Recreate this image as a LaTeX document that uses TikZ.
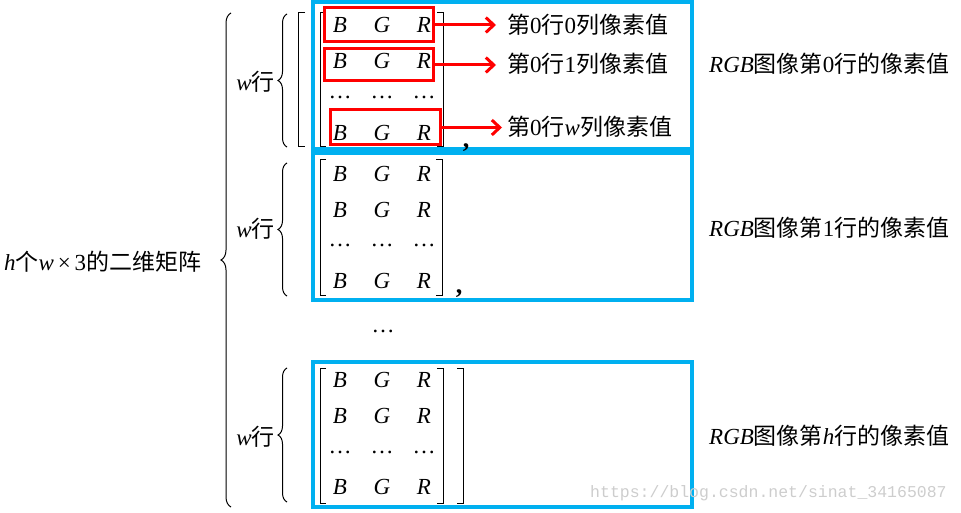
\documentclass[tikz,border=0pt]{standalone}
\usepackage{fontspec}
\setmainfont{Liberation Serif}
\newfontfamily\cjk{Noto Sans CJK SC}
\newfontfamily\wmfont{Liberation Mono}
\usetikzlibrary{arrows.meta,decorations.pathreplacing}
\definecolor{boxblue}{RGB}{0,176,240}
\definecolor{wmgray}{RGB}{205,205,205}
\begin{document}
\begin{tikzpicture}[x=1pt,y=-1pt,
  txt/.style={inner sep=0pt,font=\fontsize{23}{27}\selectfont},
  ent/.style={inner sep=0pt,font=\fontsize{23}{27}\selectfont\itshape},
  commastyle/.style={inner sep=0pt,font=\fontsize{26}{30}\selectfont\bfseries},
  bluebox/.style={draw=boxblue,line width=3.5pt,inner sep=0pt},
  redbox/.style={draw=red,line width=3pt,inner sep=0pt},
  redarrow/.style={draw=red,line width=3pt,-{Straight Barb[length=8pt,width=15pt]}},
  thinline/.style={draw=black,line width=1pt},
  groupbrace/.style={thinline,decorate,decoration={brace,amplitude=9pt}},
  bigbrace/.style={thinline,decorate,decoration={brace,amplitude=10pt}},
]
\useasboundingbox (0,0) rectangle (961,513);

% blue boxes
\node[bluebox,minimum width=379pt,minimum height=147pt] (b1) at (502.5,75.5) {};
\node[bluebox,minimum width=379pt,minimum height=147pt] (b2) at (502.5,226.5) {};
\node[bluebox,minimum width=379pt,minimum height=145pt] (b3) at (502.5,434.5) {};

% left label and big brace
\node[txt,anchor=west] (L) at (4,262) {{\itshape h}{\cjk 个}{\itshape w}\,×\,3{\cjk 的二维矩阵}};
\draw[bigbrace] (231,507) -- (231,13);

% group labels and braces
\node[txt,anchor=east] (w1) at (275,82) {{\itshape w}{\cjk 行}};
\node[txt,anchor=east] (w2) at (275,229) {{\itshape w}{\cjk 行}};
\node[txt,anchor=east] (w3) at (275,437) {{\itshape w}{\cjk 行}};
\draw[groupbrace] (287,147) -- (287,14);
\draw[groupbrace] (287,296) -- (287,163);
\draw[groupbrace] (287,502) -- (287,368);

% outer brackets
\draw[thinline] (305,13) -- (298,13) -- (298,147) -- (305,147);
\draw[thinline] (457,368) -- (463,368) -- (463,503) -- (457,503);

% matrix brackets
\draw[thinline] (326,13) -- (320,13) -- (320,147) -- (326,147);
\draw[thinline] (437,13) -- (443,13) -- (443,147) -- (437,147);
\draw[thinline] (326,160) -- (320,160) -- (320,295) -- (326,295);
\draw[thinline] (436,160) -- (442,160) -- (442,295) -- (436,295);
\draw[thinline] (326,368) -- (320,368) -- (320,503) -- (326,503);
\draw[thinline] (437,368) -- (443,368) -- (443,503) -- (437,503);

% matrix entries
\foreach \g/\ya/\yb/\yc/\yd in {1/25/61/97/133, 2/174/210/245/281, 3/380/416/452/487} {
  \foreach \r/\y in {1/\ya, 2/\yb, 4/\yd} {
    \node[ent] (m\g r\r b) at (340,\y) {B};
    \node[ent] (m\g r\r g) at (382,\y) {G};
    \node[ent] (m\g r\r r) at (424,\y) {R};
  }
  \node[txt,anchor=base] (m\g d1) at (340,\yc+1.5) {…};
  \node[txt,anchor=base] (m\g d2) at (382,\yc+1.5) {…};
  \node[txt,anchor=base] (m\g d3) at (424,\yc+1.5) {…};
}

% commas and middle dots
\node[commastyle,anchor=base] (c1) at (466,148) {,};
\node[commastyle,anchor=base] (c2) at (459,293) {,};
\node[txt,anchor=base] (vd) at (383,332) {…};

% red boxes
\node[redbox,minimum width=109pt,minimum height=34pt] (rb1) at (378.5,25) {};
\node[redbox,minimum width=109pt,minimum height=32pt] (rb2) at (378.5,65) {};
\node[redbox,minimum width=110pt,minimum height=35pt] (rb3) at (385,127.5) {};

% pixel texts
\node[txt,anchor=west] (t1) at (507,25) {{\cjk 第}0{\cjk 行}0{\cjk 列像素值}};
\node[txt,anchor=west] (t2) at (507,64) {{\cjk 第}0{\cjk 行}1{\cjk 列像素值}};
\node[txt,anchor=west] (t3) at (507,127) {{\cjk 第}0{\cjk 行}{\itshape w}{\cjk 列像素值}};
\draw[redarrow,shorten >=11pt] (rb1.east) -- (rb1.east -| t1.west);
\draw[redarrow,shorten >=11pt] (rb2.east) -- (rb2.east -| t2.west);
\draw[redarrow,shorten >=5pt] (rb3.east) -- (rb3.east -| t3.west);

% right labels
\node[txt,anchor=west] (r1) at (709,64) {{\itshape RGB}{\cjk 图像第}0{\cjk 行的像素值}};
\node[txt,anchor=west] (r2) at (709,228) {{\itshape RGB}{\cjk 图像第}1{\cjk 行的像素值}};
\node[txt,anchor=west] (r3) at (709,436) {{\itshape RGB}{\cjk 图像第}{\itshape h}{\cjk 行的像素值}};

% watermark
\node[anchor=west,inner sep=0pt,text=wmgray,font=\wmfont\fontsize{16.5}{18}\selectfont] (wm) at (590,493) {https://blog.csdn.net/sinat\_34165087};
\end{tikzpicture}
\end{document}
